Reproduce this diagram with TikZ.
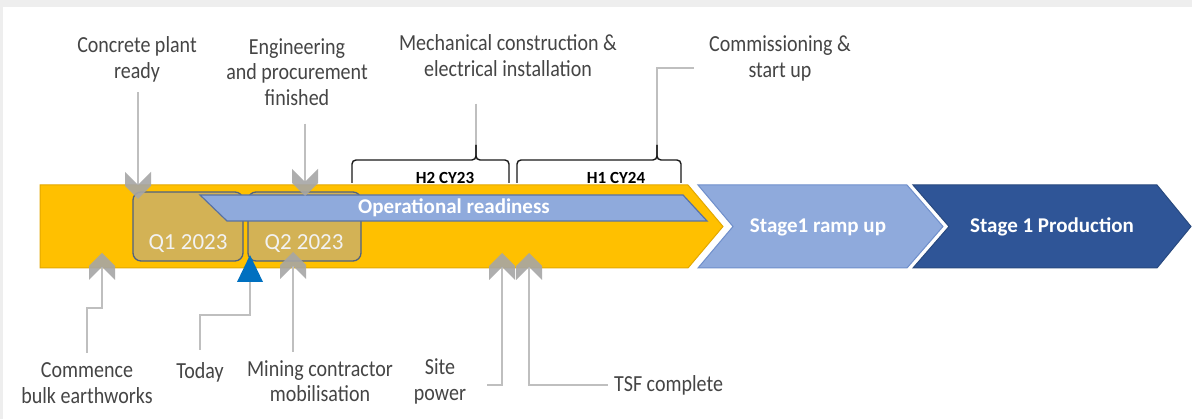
\documentclass[tikz,border=0pt]{standalone}
\usepackage{fontspec}
\setmainfont{Carlito}
\newfontfamily\labfont{Carlito}[FakeStretch=0.87]
\definecolor{ygold}{HTML}{FFC000}
\definecolor{yedge}{HTML}{E3A800}
\definecolor{lblue}{HTML}{8FAADC}
\definecolor{lbedge}{HTML}{6F8FCB}
\definecolor{dblue}{HTML}{2F5597}
\definecolor{dbedge}{HTML}{28497F}
\definecolor{qfill}{HTML}{D3B255}
\definecolor{qedge}{HTML}{50627F}
\definecolor{chevgray}{HTML}{A6A6A6}
\definecolor{conngray}{HTML}{BFBFBF}
\definecolor{labgray}{HTML}{454545}
\definecolor{tblue}{HTML}{0070C0}
\definecolor{bggray}{HTML}{EEEEEE}
\definecolor{qtext}{HTML}{F2F2F2}
\tikzset{
  lab/.style={font=\labfont\fontsize{23}{25.5}\selectfont, text=labgray, align=center, inner sep=2pt},
  conn/.style={draw=conngray, line width=1.2pt},
  brc/.style={draw=black!90, line width=1.4pt, rounded corners=4pt},
  boldw/.style={font=\bfseries\fontsize{21}{25}\selectfont, text=white, inner sep=0pt},
  hlab/.style={font=\bfseries\fontsize{17}{20}\selectfont, text=black, inner sep=0pt},
  qlab/.style={font=\fontsize{23}{26}\selectfont, text=qtext, inner sep=0pt},
  qbox/.style={fill=qfill, draw=qedge, line width=1.3pt, rounded corners=8pt},
  chevup/.pic={\fill[chevgray, opacity=0.9] (0,0) -- (13,13) -- (13,27) -- (0,14) -- (-13,27) -- (-13,13) -- cycle;},
  chevdn/.pic={\fill[chevgray, opacity=0.9] (0,0) -- (13,-13) -- (13,-27) -- (0,-14) -- (-13,-27) -- (-13,-13) -- cycle;}
}
\begin{document}
\begin{tikzpicture}[x=1pt,y=-1pt]
% background
\fill[bggray] (0,0) rectangle (1192,419);
\fill[white] (3,7) rectangle (1192,419);
\useasboundingbox (0,0) rectangle (1192,419);

% main yellow arrow
\filldraw[fill=ygold, draw=yedge, line width=1pt] (40,185) -- (688,185) -- (723,226.5) -- (688,268) -- (40,268) -- cycle;
% stage chevrons
\filldraw[fill=lblue, draw=lbedge, line width=1pt] (698,185) -- (907,185) -- (943,226.5) -- (907,268) -- (698,268) -- (733,226.5) -- cycle;
\filldraw[fill=dblue, draw=dbedge, line width=1pt] (913,185) -- (1157,185) -- (1191,226.5) -- (1157,268) -- (913,268) -- (949,226.5) -- cycle;
\node[boldw] (ramp) at (818,227) {Stage1 ramp up};
\node[boldw] (prod) at (1052,227) {Stage 1 Production};

% quarter boxes
\draw[qbox] (133,192) rectangle (243,261);
\draw[qbox] (248,192) rectangle (361,261);
\node[qlab] (q1) at (188,244) {Q1 2023};
\node[qlab] (q2) at (304,244) {Q2 2023};

% operational readiness bar
\filldraw[fill=lblue, draw=lbedge!80!black, line width=1.2pt] (200,195) -- (683,195) -- (707,221) -- (227,221) -- cycle;
\node[boldw] (opr) at (454,208) {Operational readiness};

% marker coordinates
\coordinate (m1) at (138,199);
\coordinate (m2) at (305,196);
\coordinate (m4) at (102,253);
\coordinate (m5) at (293,252);
\coordinate (m6) at (502,253);
\coordinate (m7) at (529,253);
\coordinate (tb) at (250,282);
\coordinate (pk1) at (476,145);
\coordinate (pk2) at (657,145);
\coordinate (ce) at (694,68);
\coordinate (e6) at (487,385);

% labels
\node[lab] (concrete) at (137,59.5) {Concrete plant\\ready};
\node[lab] (eng) at (297,72) {Engineering\\and procurement\\finished};
\node[lab] (mech) at (508,55.5) {Mechanical construction \&\\electrical installation};
\node[lab] (comm) at (780,58.5) {Commissioning \&\\start up};
\node[lab] (commence) at (87,383) {Commence\\bulk earthworks};
\node[lab] (today) at (200,372) {Today};
\node[lab] (mining) at (320,381) {Mining contractor\\mobilisation};
\node[lab] (site) at (440,381.5) {Site\\power};
\node[lab, anchor=west, inner sep=0pt] (tsf) at (614,385) {TSF complete};
\node[hlab] (h2) at (445,178) {H2 CY23};
\node[hlab] (h1) at (616,178) {H1 CY24};

% connectors
\draw[conn, shorten <=8pt, shorten >=14pt] (concrete.south -| m1) -- (m1);
\draw[conn, shorten <=16pt, shorten >=14pt] (eng.south -| m2) -- (m2);
\draw[conn, shorten <=25pt] (mech.south -| pk1) -- (pk1);
\draw[conn] (pk2) |- (ce);
\draw[conn, shorten >=8pt] (m4) ++(0,14) -- ++(0,41) -| (commence.north);
\draw[conn, shorten >=10pt] (tb) -- ++(0,33) -| (today.north);
\draw[conn, shorten >=6pt] (m5) ++(0,14) -- (m5 |- mining.north);
\draw[conn] (m6) ++(0,14) |- (e6);
\draw[conn] (m7) ++(0,14) |- ([xshift=-6pt]tsf.west);

% braces
\draw[brc] (352,183) -- (352,160) -- (476,160) -- (pk1);
\draw[brc] (509,183) -- (509,160) -- (476,160) -- (pk1);
\draw[brc] (517,183) -- (517,160) -- (657,160) -- (pk2);
\draw[brc] (681,183) -- (681,160) -- (657,160) -- (pk2);

% markers
\pic at (m1) {chevdn};
\pic at (m2) {chevdn};
\pic at (m4) {chevup};
\pic at (m5) {chevup};
\pic at (m6) {chevup};
\pic at (m7) {chevup};
\fill[tblue] (250,255) -- (263,282) -- (237,282) -- cycle;
\end{tikzpicture}
\end{document}
